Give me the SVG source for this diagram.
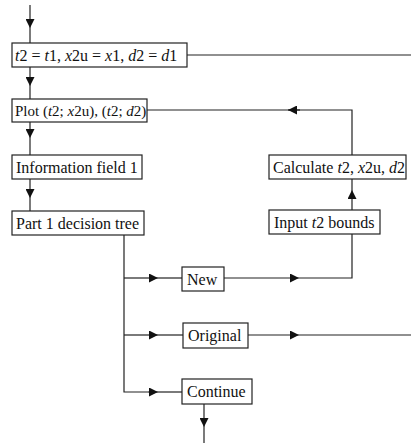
<svg xmlns="http://www.w3.org/2000/svg" width="411" height="443" viewBox="0 0 411 443">
  <style>
    .box { fill: #fff; stroke: #222; stroke-width: 1.2; }
    .lbl { font-family: "Liberation Serif", "Times New Roman", serif; font-size: 16px; fill: #111; }
    .tight { font-size: 15px; }
    .it { font-style: italic; }
    .wire { fill: none; stroke: #222; stroke-width: 1.2; }
  </style>
  <defs>
    <marker id="arrow" viewBox="0 0 10 10" refX="10" refY="5" markerWidth="10" markerHeight="9" markerUnits="userSpaceOnUse" orient="auto">
      <path d="M0,0 L10,5 L0,10 Z" fill="#111"/>
    </marker>
  </defs>

  <g id="connectors">
    <!-- entry -->
    <line class="wire" x1="30" y1="5" x2="30" y2="28" marker-end="url(#arrow)"/>
    <line class="wire" x1="30" y1="28" x2="30" y2="43"/>
    <!-- init -> plot -->
    <line class="wire" x1="30" y1="67" x2="30" y2="86" marker-end="url(#arrow)"/>
    <line class="wire" x1="30" y1="86" x2="30" y2="99"/>
    <!-- init exit to the right -->
    <line class="wire" x1="187" y1="55" x2="411" y2="55"/>
    <!-- plot -> info -->
    <line class="wire" x1="30" y1="122" x2="30" y2="138" marker-end="url(#arrow)"/>
    <line class="wire" x1="30" y1="138" x2="30" y2="155"/>
    <!-- info -> decision tree -->
    <line class="wire" x1="30" y1="179" x2="30" y2="198" marker-end="url(#arrow)"/>
    <line class="wire" x1="30" y1="198" x2="30" y2="211"/>
    <!-- decision trunk -->
    <polyline class="wire" points="124,235 124,392 148,392"/>
    <line class="wire" x1="124" y1="278" x2="148" y2="278"/>
    <line class="wire" x1="124" y1="335" x2="148" y2="335"/>
    <line class="wire" x1="148" y1="278" x2="158" y2="278" marker-end="url(#arrow)"/>
    <line class="wire" x1="158" y1="278" x2="182" y2="278"/>
    <line class="wire" x1="148" y1="335" x2="158" y2="335" marker-end="url(#arrow)"/>
    <line class="wire" x1="158" y1="335" x2="183" y2="335"/>
    <line class="wire" x1="148" y1="392" x2="158" y2="392" marker-end="url(#arrow)"/>
    <line class="wire" x1="158" y1="392" x2="182" y2="392"/>
    <!-- new -> input bounds -->
    <line class="wire" x1="224" y1="278" x2="299" y2="278" marker-end="url(#arrow)"/>
    <polyline class="wire" points="299,278 352,278 352,234"/>
    <!-- input -> calculate -->
    <line class="wire" x1="352" y1="210" x2="352" y2="190" marker-end="url(#arrow)"/>
    <line class="wire" x1="352" y1="190" x2="352" y2="179"/>
    <!-- calculate -> plot (loop back) -->
    <polyline class="wire" points="352,155 352,110 288,110" />
    <line class="wire" x1="300" y1="110" x2="288" y2="110" marker-end="url(#arrow)"/>
    <line class="wire" x1="288" y1="110" x2="147" y2="110"/>
    <!-- original exit -->
    <line class="wire" x1="248" y1="335" x2="299" y2="335" marker-end="url(#arrow)"/>
    <line class="wire" x1="299" y1="335" x2="411" y2="335"/>
    <!-- continue exit -->
    <line class="wire" x1="204" y1="404" x2="204" y2="427" marker-end="url(#arrow)"/>
    <line class="wire" x1="204" y1="427" x2="204" y2="443"/>
  </g>

  <g id="init">
    <rect class="box" x="12" y="43" width="175" height="24"/>
    <text class="lbl" x="15" y="61"><tspan class="it">t</tspan>2 = <tspan class="it">t</tspan>1, <tspan class="it">x</tspan>2u = <tspan class="it">x</tspan>1, <tspan class="it">d</tspan>2 = <tspan class="it">d</tspan>1</text>
  </g>

  <g id="plot">
    <rect class="box" x="12" y="99" width="135" height="23"/>
    <text class="lbl tight" x="15" y="116">Plot (<tspan class="it">t</tspan>2; <tspan class="it">x</tspan>2u), (<tspan class="it">t</tspan>2; <tspan class="it">d</tspan>2)</text>
  </g>

  <g id="info">
    <rect class="box" x="12" y="155" width="130" height="24"/>
    <text class="lbl" x="16" y="173">Information field 1</text>
  </g>

  <g id="decision">
    <rect class="box" x="12" y="211" width="132" height="24"/>
    <text class="lbl" x="16" y="229">Part 1 decision tree</text>
  </g>

  <g id="calculate">
    <rect class="box" x="269" y="155" width="137" height="24"/>
    <text class="lbl" x="273" y="173">Calculate <tspan class="it">t</tspan>2, <tspan class="it">x</tspan>2u, <tspan class="it">d</tspan>2</text>
  </g>

  <g id="input">
    <rect class="box" x="269" y="210" width="111" height="24"/>
    <text class="lbl" x="274" y="228">Input <tspan class="it">t</tspan>2 bounds</text>
  </g>

  <g id="new">
    <rect class="box" x="182" y="267" width="42" height="24"/>
    <text class="lbl" x="187" y="285">New</text>
  </g>

  <g id="original">
    <rect class="box" x="183" y="323" width="65" height="25"/>
    <text class="lbl" x="188" y="341">Original</text>
  </g>

  <g id="continue">
    <rect class="box" x="182" y="379" width="70" height="25"/>
    <text class="lbl" x="187" y="397">Continue</text>
  </g>
</svg>
